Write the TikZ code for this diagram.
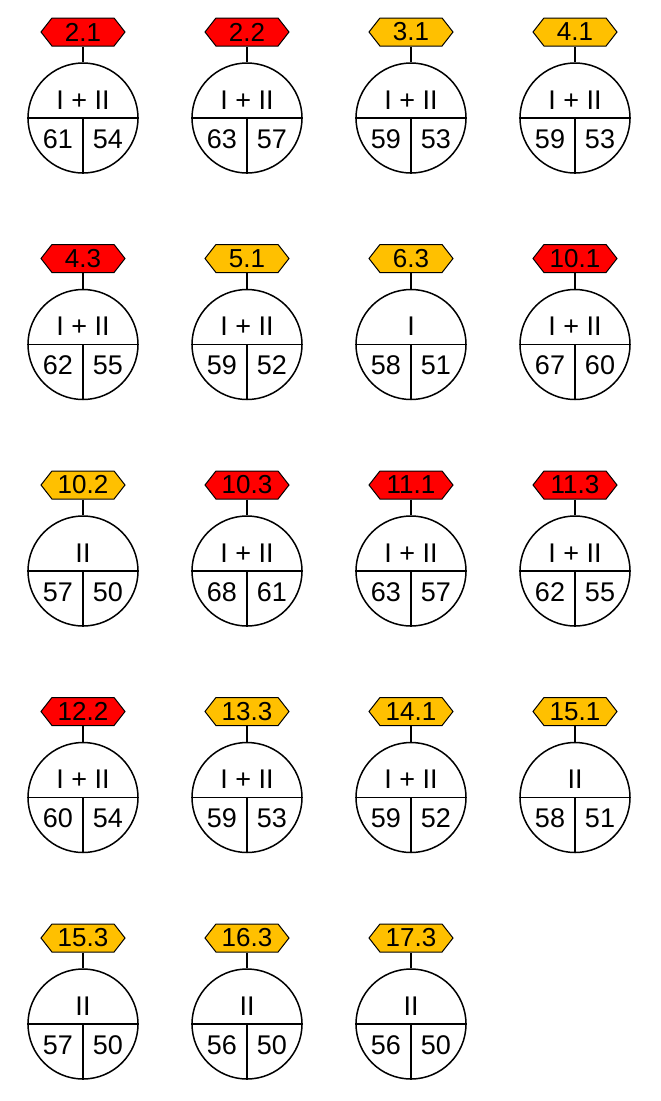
\documentclass[tikz,border=0pt]{standalone}
\usepackage{fontspec}
\setmainfont{Liberation Sans}
\usetikzlibrary{shapes.symbols}

\definecolor{tagred}{HTML}{FF0000}
\definecolor{tagorange}{HTML}{FFC000}

\begin{document}
\begin{tikzpicture}[
        x=1pt, y=-1pt,
        disc/.style={draw, circle, line width=1.5pt, minimum size=110pt, inner sep=0pt},
        tag/.style={draw, signal, signal to=west and east, signal pointer angle=104,
            line width=1pt, minimum width=84pt, minimum height=28pt, inner sep=0pt,
            font=\fontsize{26}{26}\selectfont},
        phase/.style={font=\fontsize{27}{27}\selectfont, inner sep=0pt},
        level/.style={font=\fontsize{27}{27}\selectfont, inner sep=0pt},
        stem/.style={line width=1.5pt},
    ]
        \useasboundingbox (0,0) rectangle (661,1101);

        % label / column / row / colour / phases / left / right
        \foreach \lab/\col/\row/\fc/\ph/\vl/\vr [count=\k] in {
            2.1/0/0/tagred/{I + II}/61/54,
            2.2/1/0/tagred/{I + II}/63/57,
            3.1/2/0/tagorange/{I + II}/59/53,
            4.1/3/0/tagorange/{I + II}/59/53,
            4.3/0/1/tagred/{I + II}/62/55,
            5.1/1/1/tagorange/{I + II}/59/52,
            6.3/2/1/tagorange/{I}/58/51,
            10.1/3/1/tagred/{I + II}/67/60,
            10.2/0/2/tagorange/{II}/57/50,
            10.3/1/2/tagred/{I + II}/68/61,
            11.1/2/2/tagred/{I + II}/63/57,
            11.3/3/2/tagred/{I + II}/62/55,
            12.2/0/3/tagred/{I + II}/60/54,
            13.3/1/3/tagorange/{I + II}/59/53,
            14.1/2/3/tagorange/{I + II}/59/52,
            15.1/3/3/tagorange/{II}/58/51,
            15.3/0/4/tagorange/{II}/57/50,
            16.3/1/4/tagorange/{II}/56/50,
            17.3/2/4/tagorange/{II}/56/50}
        {
            \pgfmathsetmacro{\cx}{83+164*\col}
            \pgfmathsetmacro{\cy}{118+226.5*\row}
            \node (disc\k) [disc] at (\cx,\cy) {};
            \node (tag\k) [tag, fill=\fc] at (\cx,\cy-86) {\lab};
            \draw [stem] (tag\k.south) -- (disc\k.north);
            \draw [stem] (disc\k.west) -- (disc\k.east);
            \draw [stem] (disc\k.center) -- (disc\k.south);
            \node (ph\k) [phase] at (\cx,\cy-18) {\ph};
            \node (lo\k) [level] at (\cx-25,\cy+21) {\vl};
            \node (hi\k) [level] at (\cx+25,\cy+21) {\vr};
        }
    \end{tikzpicture}
\end{document}
